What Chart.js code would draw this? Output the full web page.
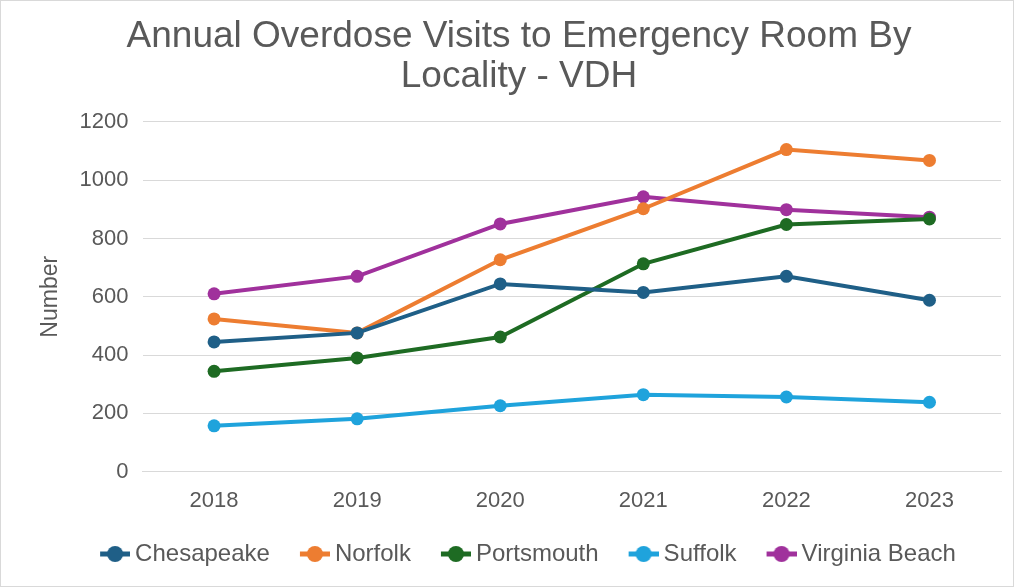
<!DOCTYPE html>
<html>
<head>
<meta charset="utf-8">
<script src="https://cdn.jsdelivr.net/npm/chart.js@4/dist/chart.umd.min.js"></script>
<style>
  html, body { margin: 0; padding: 0; background: #fff; }
  #wrap { width: 1014px; height: 587px; position: relative; box-sizing: border-box; border: 1px solid #d9d9d9; }
</style>
</head>
<body>
<div id="wrap"><canvas id="overdoseChart"></canvas></div>
<script>
var years = ['2018', '2019', '2020', '2021', '2022', '2023'];
var chesapeake = [445, 476, 644, 615, 670, 588];
var norfolk = [524, 476, 727, 902, 1105, 1068];
var portsmouth = [344, 390, 462, 713, 848, 867];
var suffolk = [157, 181, 226, 264, 256, 238];
var virginiaBeach = [610, 670, 850, 943, 899, 873];

var seriesNames = ['Chesapeake', 'Norfolk', 'Portsmouth', 'Suffolk', 'Virginia Beach'];
var seriesColors = ['#1f5f87', '#ed7d31', '#1e6b23', '#1fa3dc', '#a0319c'];
var fontFamily = 'Liberation Sans, Arial, sans-serif';

// line + dot marker like the Excel legend. The blank strip on the left spreads
// the legend items apart; the image is wider than its box so it sits close to the text.
var markerGap = 25, markerLen = 30;
function legendMarker(color) {
  var c = document.createElement('canvas');
  c.width = markerGap + markerLen; c.height = 18;
  var g = c.getContext('2d');
  g.strokeStyle = color;
  g.lineWidth = 5;
  g.beginPath(); g.moveTo(markerGap, 9); g.lineTo(markerGap + markerLen, 9); g.stroke();
  g.fillStyle = color;
  g.beginPath(); g.arc(markerGap + markerLen / 2, 9, 8, 0, Math.PI * 2); g.fill();
  return c;
}

var allData = [chesapeake, norfolk, portsmouth, suffolk, virginiaBeach];
var datasets = allData.map(function(vals, i) {
  return {
    label: seriesNames[i],
    data: vals,
    borderColor: seriesColors[i],
    backgroundColor: seriesColors[i],
    borderWidth: 4,
    pointRadius: 6.5,
    pointHoverRadius: 6.5,
    pointBorderWidth: 0,
    pointStyle: 'circle',
    legendStyle: legendMarker(seriesColors[i]),
    tension: 0
  };
});

var ctx = document.getElementById('overdoseChart').getContext('2d');
new Chart(ctx, {
  type: 'line',
  data: { labels: years, datasets: datasets },
  options: {
    responsive: true,
    maintainAspectRatio: false,
    animation: false,
    layout: { padding: { left: 36, right: 12, top: 0, bottom: 10 } },
    plugins: {
      title: {
        display: true,
        text: ['Annual Overdose Visits to Emergency Room By', 'Locality - VDH'],
        color: '#595959',
        font: { family: fontFamily, size: 37, weight: 'normal', lineHeight: 1.08 },
        padding: { top: 16, bottom: 25 }
      },
      legend: {
        position: 'bottom',
        labels: {
          usePointStyle: true,
          pointStyleWidth: markerGap + markerLen - 14,
          color: '#595959',
          font: { family: fontFamily, size: 24 },
          padding: 12,
          generateLabels: function(chart) {
            return chart.data.datasets.map(function(ds, i) {
              return {
                text: ds.label,
                fillStyle: ds.backgroundColor,
                strokeStyle: ds.borderColor,
                fontColor: '#595959',
                lineWidth: 0,
                pointStyle: ds.legendStyle,
                datasetIndex: i
              };
            });
          }
        }
      },
      tooltip: { enabled: false }
    },
    scales: {
      x: {
        offset: true,
        grid: { display: false, drawTicks: false },
        border: { color: '#d9d9d9', width: 1 },
        ticks: { color: '#595959', padding: 16, font: { family: fontFamily, size: 22 } }
      },
      y: {
        min: 0,
        max: 1200,
        ticks: {
          stepSize: 200,
          color: '#595959',
          padding: 14,
          font: { family: fontFamily, size: 22 },
          callback: function(v) { return String(v); }
        },
        grid: { color: '#d9d9d9', drawTicks: false },
        border: { display: false },
        title: {
          display: true,
          text: 'Number',
          color: '#595959',
          font: { family: fontFamily, size: 23 },
          padding: { top: 0, bottom: 1 }
        }
      }
    }
  }
});
</script>
</body>
</html>
